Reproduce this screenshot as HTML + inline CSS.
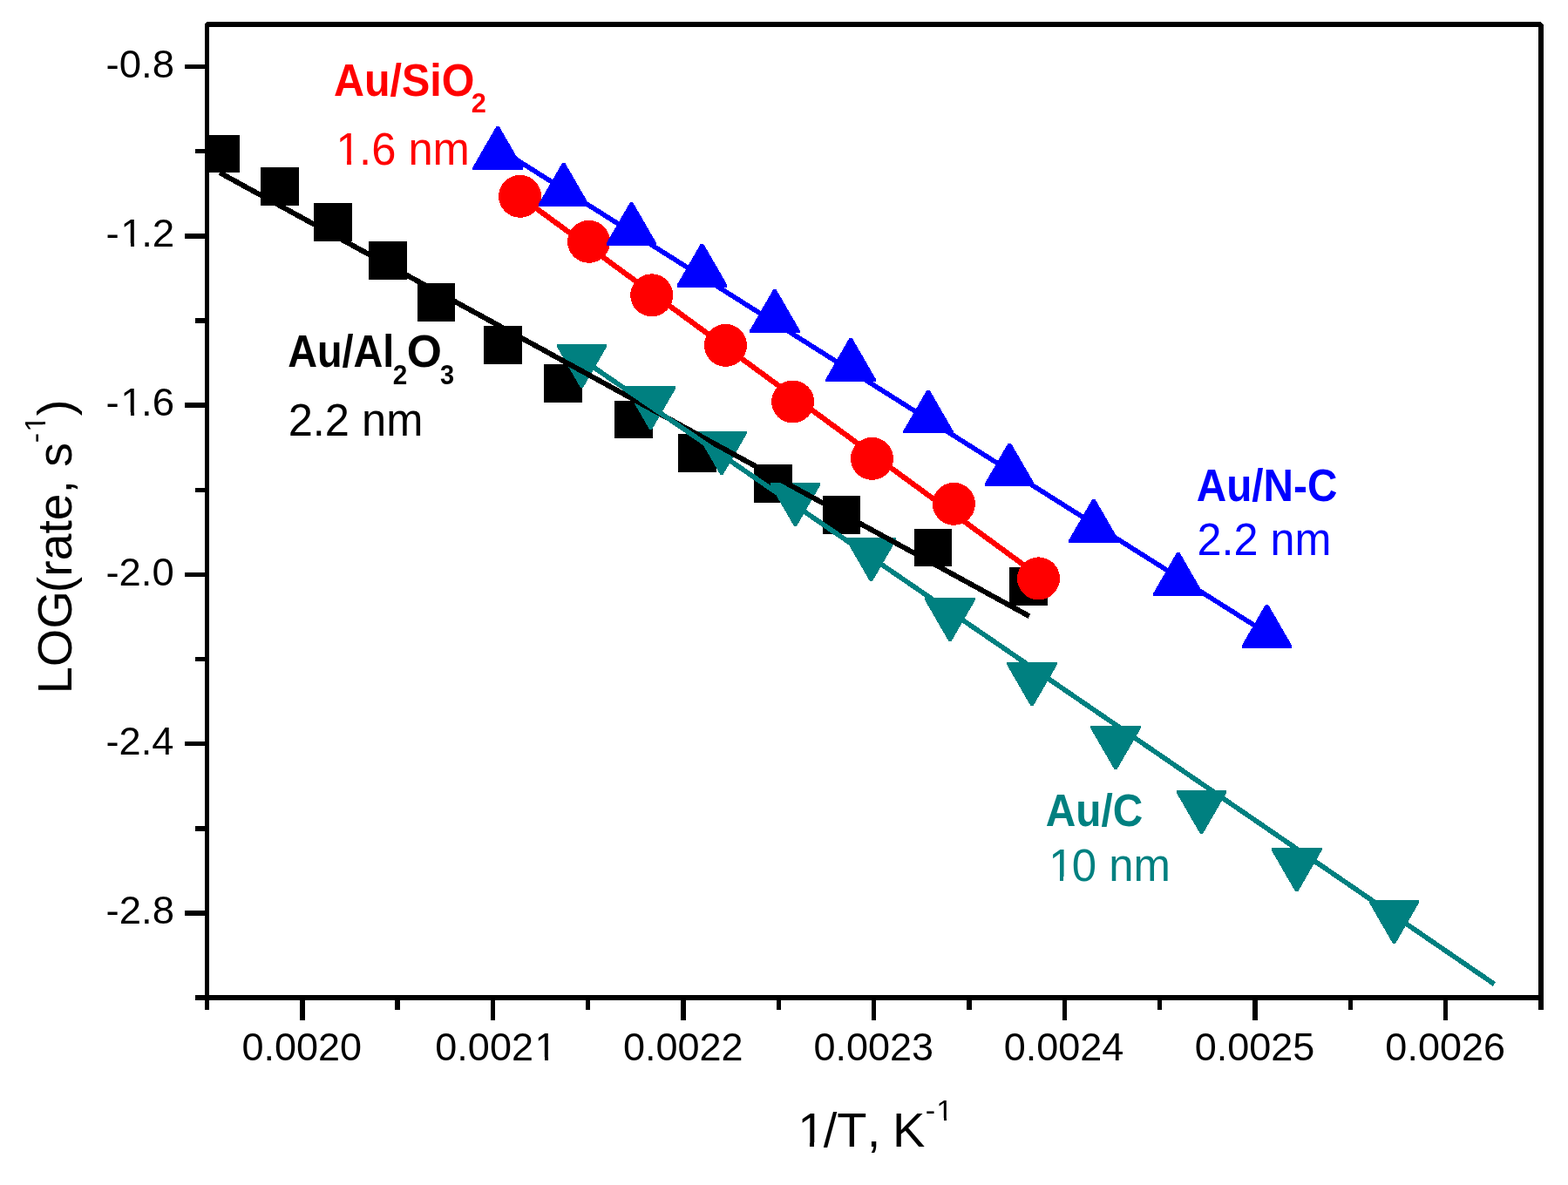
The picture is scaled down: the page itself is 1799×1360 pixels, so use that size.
<!DOCTYPE html>
<html><head><meta charset="utf-8"><title>Arrhenius plot</title>
<style>html,body{margin:0;padding:0;background:#fff;overflow:hidden;}svg{display:block;}</style>
</head><body>
<svg width="1799" height="1360" viewBox="0 0 1799 1360" font-family="'Liberation Sans', Arial, Helvetica, sans-serif" shape-rendering="crispEdges">
<rect width="1799" height="1360" fill="#fff"/>
<defs><clipPath id="pa"><rect x="237.50" y="28.00" width="1530.50" height="1117.10"/></clipPath></defs>
<g clip-path="url(#pa)">
<g fill="#000000"><rect x="231.60" y="154.50" width="43.80" height="43.80"/><rect x="299.10" y="191.90" width="43.80" height="43.80"/><rect x="360.10" y="233.00" width="43.80" height="43.80"/><rect x="423.10" y="277.00" width="43.80" height="43.80"/><rect x="478.60" y="325.10" width="43.80" height="43.80"/><rect x="555.10" y="374.00" width="43.80" height="43.80"/><rect x="624.10" y="418.40" width="43.80" height="43.80"/><rect x="705.10" y="459.50" width="43.80" height="43.80"/><rect x="778.00" y="498.00" width="43.80" height="43.80"/><rect x="865.10" y="533.10" width="43.80" height="43.80"/><rect x="943.60" y="569.00" width="43.80" height="43.80"/><rect x="1048.60" y="606.50" width="43.80" height="43.80"/><rect x="1158.10" y="651.40" width="43.80" height="43.80"/></g>
<g fill="#ff0000"><circle cx="596.60" cy="225.30" r="24.50"/><circle cx="675.60" cy="277.30" r="24.50"/><circle cx="747.70" cy="338.80" r="24.50"/><circle cx="832.50" cy="396.40" r="24.50"/><circle cx="909.60" cy="461.00" r="24.50"/><circle cx="1000.50" cy="526.40" r="24.50"/><circle cx="1094.40" cy="578.30" r="24.50"/><circle cx="1191.50" cy="663.90" r="24.50"/></g>
<g fill="#0000ff"><path d="M569.50 145.00L572.70 145.00L599.90 192.10L599.90 194.70L542.30 194.70L542.30 192.10Z"/><path d="M645.10 187.00L648.30 187.00L675.50 234.10L675.50 236.70L617.90 236.70L617.90 234.10Z"/><path d="M722.90 232.20L726.10 232.20L753.30 279.30L753.30 281.90L695.70 281.90L695.70 279.30Z"/><path d="M803.90 279.80L807.10 279.80L834.30 326.90L834.30 329.50L776.70 329.50L776.70 326.90Z"/><path d="M887.30 332.10L890.50 332.10L917.70 379.20L917.70 381.80L860.10 381.80L860.10 379.20Z"/><path d="M974.50 388.00L977.70 388.00L1004.90 435.10L1004.90 437.70L947.30 437.70L947.30 435.10Z"/><path d="M1063.40 447.70L1066.60 447.70L1093.80 494.80L1093.80 497.40L1036.20 497.40L1036.20 494.80Z"/><path d="M1156.70 508.50L1159.90 508.50L1187.10 555.60L1187.10 558.20L1129.50 558.20L1129.50 555.60Z"/><path d="M1253.30 572.90L1256.50 572.90L1283.70 620.00L1283.70 622.60L1226.10 622.60L1226.10 620.00Z"/><path d="M1350.20 634.10L1353.40 634.10L1380.60 681.20L1380.60 683.80L1323.00 683.80L1323.00 681.20Z"/><path d="M1451.90 693.90L1455.10 693.90L1482.30 741.00L1482.30 743.60L1424.70 743.60L1424.70 741.00Z"/></g>
<g fill="#008080"><path d="M638.70 395.00L696.30 395.00L696.30 397.60L669.10 444.70L665.90 444.70L638.70 397.60Z"/><path d="M717.80 442.90L775.40 442.90L775.40 445.50L748.20 492.60L745.00 492.60L717.80 445.50Z"/><path d="M799.20 495.10L856.80 495.10L856.80 497.70L829.60 544.80L826.40 544.80L799.20 497.70Z"/><path d="M883.70 554.00L941.30 554.00L941.30 556.60L914.10 603.70L910.90 603.70L883.70 556.60Z"/><path d="M970.70 617.20L1028.30 617.20L1028.30 619.80L1001.10 666.90L997.90 666.90L970.70 619.80Z"/><path d="M1061.20 686.20L1118.80 686.20L1118.80 688.80L1091.60 735.90L1088.40 735.90L1061.20 688.80Z"/><path d="M1155.20 760.30L1212.80 760.30L1212.80 762.90L1185.60 810.00L1182.40 810.00L1155.20 762.90Z"/><path d="M1251.20 833.20L1308.80 833.20L1308.80 835.80L1281.60 882.90L1278.40 882.90L1251.20 835.80Z"/><path d="M1349.70 907.10L1407.30 907.10L1407.30 909.70L1380.10 956.80L1376.90 956.80L1349.70 909.70Z"/><path d="M1458.90 973.40L1516.50 973.40L1516.50 976.00L1489.30 1023.10L1486.10 1023.10L1458.90 976.00Z"/><path d="M1570.70 1033.00L1628.30 1033.00L1628.30 1035.60L1601.10 1082.70L1597.90 1082.70L1570.70 1035.60Z"/></g>
<line x1="252.00" y1="198.13" x2="1181.00" y2="707.22" stroke="#000000" stroke-width="6.00"/>
<line x1="596.60" y1="225.44" x2="1191.50" y2="660.85" stroke="#ff0000" stroke-width="6.20"/>
<line x1="571.10" y1="169.65" x2="1453.50" y2="726.80" stroke="#0000ff" stroke-width="5.60"/>
<line x1="667.50" y1="412.19" x2="1714.50" y2="1129.49" stroke="#008080" stroke-width="5.70"/>
</g>
<rect x="237.50" y="28.00" width="1530.50" height="1117.10" fill="none" stroke="#000" stroke-width="5.60" stroke-linejoin="bevel"/>
<path d="M237.50 76.57H212.00M237.50 173.71H224.00M237.50 270.85H212.00M237.50 367.99H224.00M237.50 465.13H212.00M237.50 562.27H224.00M237.50 659.40H212.00M237.50 756.54H224.00M237.50 853.68H212.00M237.50 950.82H224.00M237.50 1047.96H212.00M237.50 1145.10H224.00M346.82 1145.10V1170.60M565.46 1145.10V1170.60M784.11 1145.10V1170.60M1002.75 1145.10V1170.60M1221.39 1145.10V1170.60M1440.04 1145.10V1170.60M1658.68 1145.10V1170.60M237.50 1145.10V1159.40M456.14 1145.10V1159.40M674.79 1145.10V1159.40M893.43 1145.10V1159.40M1112.07 1145.10V1159.40M1330.71 1145.10V1159.40M1549.36 1145.10V1159.40M1768.00 1145.10V1159.40" stroke="#000" stroke-width="5.4" stroke-linecap="butt" fill="none"/>
<text x="121.48" y="88.77" font-size="45.00" fill="#000" textLength="78.50" lengthAdjust="spacingAndGlyphs">-0.8</text>
<text x="121.47" y="283.05" dx="0.00 1.50 -1.50" font-size="45.00" fill="#000" textLength="78.83" lengthAdjust="spacingAndGlyphs">-1.2</text>
<text x="121.48" y="477.33" dx="0.00 1.49 -1.49" font-size="45.00" fill="#000" textLength="78.53" lengthAdjust="spacingAndGlyphs">-1.6</text>
<text x="121.48" y="671.60" font-size="45.00" fill="#000" textLength="78.29" lengthAdjust="spacingAndGlyphs">-2.0</text>
<text x="121.49" y="865.88" font-size="45.00" fill="#000" textLength="77.83" lengthAdjust="spacingAndGlyphs">-2.4</text>
<text x="121.48" y="1060.16" font-size="45.00" fill="#000" textLength="78.50" lengthAdjust="spacingAndGlyphs">-2.8</text>
<text x="277.40" y="1217.17" font-size="45.00" fill="#000">0.0020</text>
<text x="499.30" y="1217.17" dx="0.00 0.00 0.00 0.00 0.00 1.47" font-size="45.00" fill="#000">0.0021</text>
<text x="714.94" y="1217.17" font-size="45.00" fill="#000">0.0022</text>
<text x="933.44" y="1217.17" font-size="45.00" fill="#000">0.0023</text>
<text x="1151.75" y="1217.17" font-size="45.00" fill="#000">0.0024</text>
<text x="1370.68" y="1217.17" font-size="45.00" fill="#000">0.0025</text>
<text x="1589.37" y="1217.17" font-size="45.00" fill="#000">0.0026</text>
<path fill="#fff" d="M140.48 278.99h9.22v4.96h-9.22ZM153.75 278.99h8.86v4.96h-8.86ZM140.41 473.26h9.19v4.96h-9.19ZM153.63 473.26h8.83v4.96h-8.83ZM615.61 1213.11h9.09v4.96h-9.09ZM628.67 1213.11h8.74v4.96h-8.74Z"/>
<text fill="#000"><tspan x="913.48" y="1315.90" dx="1.83 -1.83" font-size="56.00">1/T</tspan><tspan x="994.77" y="1315.90" font-size="56.00">, </tspan><tspan x="1024.11" y="1315.90" font-size="56.00">K</tspan><tspan x="1061.69" y="1286.10" dx="0.00 1.11" font-size="34.00">-1</tspan></text>
<path fill="#fff" d="M918.37 1311.02h11.02v5.78h-11.02ZM934.34 1311.02h10.58v5.78h-10.58ZM1075.51 1282.86h7.16v4.14h-7.16ZM1085.68 1282.86h6.89v4.14h-6.89Z"/>
<g transform="rotate(-90)">
<text fill="#000"><tspan x="-796.29" y="82.00" font-size="56.00">LOG</tspan><tspan x="-680.23" y="82.00" font-size="56.00" textLength="172.23" lengthAdjust="spacingAndGlyphs">(rate, s</tspan><tspan x="-508.31" y="51.90" dx="0.00 1.11" font-size="34.00">-1</tspan><tspan x="-477.13" y="82.00" font-size="56.00">)</tspan></text>
<path fill="#fff" d="M-494.49 48.66h7.16v4.14h-7.16ZM-484.32 48.66h6.89v4.14h-6.89Z"/>
</g>
<text fill="#ff0000" font-weight="bold"><tspan x="382.99" y="110.10" font-size="51.00" textLength="161.44" lengthAdjust="spacingAndGlyphs">Au/SiO</tspan><tspan x="540.73" y="129.00" font-size="31.00" textLength="17.10" lengthAdjust="spacingAndGlyphs">2</tspan></text>
<text fill="#ff0000"><tspan x="383.84" y="189.00" dx="1.64 -1.64" font-size="51.00" textLength="153.37" lengthAdjust="spacingAndGlyphs">1.6 nm</tspan></text>
<path fill="#fff" d="M388.10 184.49h9.99v5.41h-9.99ZM402.53 184.49h9.60v5.41h-9.60Z"/>
<text fill="#000000" font-weight="bold"><tspan x="330.13" y="420.80" font-size="51.00" textLength="122.18" lengthAdjust="spacingAndGlyphs">Au/Al</tspan><tspan x="450.77" y="440.90" font-size="31.00" textLength="16.52" lengthAdjust="spacingAndGlyphs">2</tspan><tspan x="466.88" y="420.80" font-size="51.00" textLength="40.19" lengthAdjust="spacingAndGlyphs">O</tspan><tspan x="504.94" y="440.90" font-size="31.00" textLength="16.11" lengthAdjust="spacingAndGlyphs">3</tspan></text>
<text fill="#000000"><tspan x="330.66" y="499.90" font-size="51.00" textLength="154.68" lengthAdjust="spacingAndGlyphs">2.2 nm</tspan></text>
<text fill="#0000ff" font-weight="bold"><tspan x="1372.71" y="574.80" font-size="51.00" textLength="161.69" lengthAdjust="spacingAndGlyphs">Au/N-C</tspan></text>
<text fill="#0000ff"><tspan x="1373.57" y="636.70" font-size="51.00" textLength="153.74" lengthAdjust="spacingAndGlyphs">2.2 nm</tspan></text>
<text fill="#008080" font-weight="bold"><tspan x="1199.81" y="947.80" font-size="51.00" textLength="111.50" lengthAdjust="spacingAndGlyphs">Au/C</tspan></text>
<text fill="#008080"><tspan x="1201.52" y="1011.00" dx="1.65 -1.65" font-size="51.00" textLength="139.79" lengthAdjust="spacingAndGlyphs">10 nm</tspan></text>
<path fill="#fff" d="M1205.80 1006.49h10.02v5.41h-10.02ZM1220.26 1006.49h9.62v5.41h-9.62Z"/>
</svg>
</body></html>
